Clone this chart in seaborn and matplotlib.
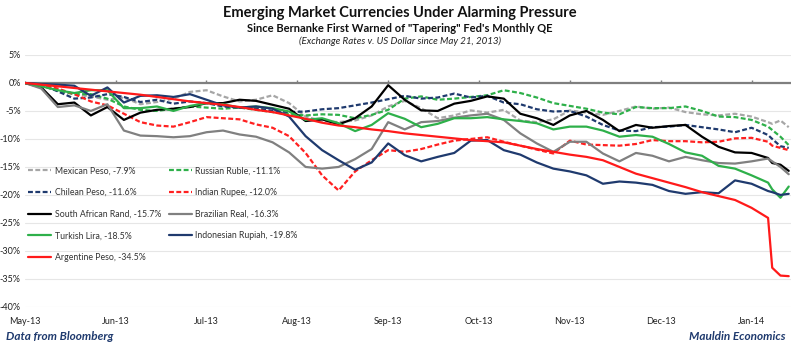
import numpy as np
import pandas as pd
import matplotlib
matplotlib.use('Agg')
import matplotlib.pyplot as plt
import seaborn as sns
from matplotlib.ticker import FuncFormatter

# trading-day index (May 21, 2013 = 0), sampled every 4 days plus the last few
days = list(range(0, 181, 4)) + [181, 183, 185]

mexican = [0, -0.3, -1.2, -2.0, -2.4, -3.0, -2.6, -3.8, -3.4, -2.8, -1.6, -1.3, -2.4, -3.3, -3.0, -2.2,
           -3.6, -6.0, -6.8, -7.0, -6.7, -5.8, -4.2, -3.2, -4.5, -6.3, -5.8, -4.9, -5.3, -4.8, -6.7, -7.0,
           -6.5, -4.9, -5.3, -5.7, -5.0, -4.2, -4.6, -4.4, -5.2, -5.6, -5.8, -5.5, -6.0, -7.0, -7.3, -6.7, -7.9]
russian = [0, -0.5, -1.4, -2.0, -2.0, -2.8, -4.2, -4.8, -5.0, -4.6, -4.2, -4.4, -4.6, -4.4, -4.8, -5.2,
           -5.6, -5.8, -5.6, -5.7, -6.3, -5.7, -4.8, -2.8, -2.4, -3.0, -2.8, -2.5, -2.2, -1.3, -1.8, -2.6,
           -3.6, -4.1, -4.6, -5.3, -5.6, -4.3, -4.5, -4.5, -4.2, -5.0, -6.0, -6.1, -6.6, -7.8, -8.4, -9.6, -11.1]
chilean = [0, -0.3, -1.5, -2.8, -2.6, -2.0, -2.5, -3.4, -3.0, -3.7, -3.3, -3.6, -4.2, -4.4, -4.5, -5.0,
           -5.2, -5.1, -4.7, -4.5, -4.0, -3.5, -2.9, -2.3, -2.8, -2.6, -1.9, -2.6, -2.3, -3.5, -3.8, -4.7,
           -5.1, -5.0, -6.0, -7.5, -8.5, -8.6, -7.9, -7.8, -7.5, -7.9, -8.3, -8.8, -8.0, -9.3, -10.0, -11.3, -11.6]
indian = [0, -0.4, -1.0, -2.0, -3.3, -4.0, -5.5, -7.0, -7.6, -7.8, -7.0, -6.1, -6.3, -6.5, -7.4, -8.0,
          -9.5, -12.5, -16.5, -19.2, -15.8, -13.8, -12.0, -12.3, -11.8, -11.0, -10.3, -10.0, -9.7, -10.5, -11.2, -11.9,
          -12.6, -10.3, -11.0, -11.1, -11.2, -10.9, -10.2, -10.4, -10.4, -10.6, -10.5, -9.9, -9.8, -10.5, -11.2, -11.6, -12.0]
rand = [0, -0.8, -3.8, -3.5, -5.8, -4.3, -6.6, -5.3, -4.8, -4.6, -4.3, -3.6, -3.6, -3.0, -3.2, -3.9,
        -4.6, -6.8, -6.5, -7.4, -6.3, -4.2, -0.4, -3.0, -4.9, -5.0, -3.7, -3.2, -2.4, -2.8, -5.5, -6.3,
        -7.5, -5.8, -5.0, -6.6, -8.6, -7.5, -8.0, -7.7, -7.5, -9.6, -11.4, -12.4, -12.5, -13.4, -14.3, -14.6, -15.7]
real = [0, -1.0, -4.3, -4.0, -5.0, -3.8, -8.5, -9.4, -9.5, -9.7, -9.5, -8.8, -8.5, -9.2, -9.6, -10.6,
        -12.4, -15.0, -15.3, -15.0, -13.6, -11.8, -7.0, -8.3, -7.0, -6.8, -6.2, -5.8, -5.5, -6.6, -9.0, -10.8,
        -12.3, -10.5, -10.5, -12.6, -14.0, -12.5, -13.0, -14.0, -13.2, -13.8, -14.3, -14.4, -14.0, -13.5, -14.0, -15.0, -16.3]
lira = [0, -0.6, -1.3, -1.8, -1.3, -1.3, -4.5, -4.5, -4.2, -5.0, -4.1, -3.6, -3.8, -4.4, -4.2, -4.5,
        -5.1, -6.6, -6.3, -7.2, -8.6, -7.5, -5.4, -6.4, -7.9, -7.3, -6.3, -6.3, -6.1, -6.5, -6.8, -7.2,
        -8.3, -7.8, -7.8, -8.5, -9.6, -9.3, -9.6, -10.9, -12.4, -13.0, -14.8, -15.3, -16.5, -17.8, -19.0, -20.5, -18.5]
rupiah = [0, -0.2, -0.3, -0.5, -2.3, -0.8, -3.5, -2.3, -2.2, -2.5, -2.0, -3.0, -4.0, -4.4, -4.2, -4.6,
          -6.0, -9.5, -12.0, -13.8, -15.5, -14.2, -10.8, -12.9, -14.0, -13.2, -12.5, -10.3, -10.2, -12.0, -12.8, -14.2,
          -15.3, -15.8, -16.5, -18.0, -17.6, -17.8, -18.2, -19.3, -19.8, -19.5, -19.7, -17.4, -18.0, -19.3, -19.5, -20.0, -19.8]
argentine = [0, -0.3, -0.6, -0.9, -1.2, -1.5, -1.8, -2.1, -2.5, -2.9, -3.3, -3.6, -3.9, -4.3, -4.8, -5.2,
             -5.8, -6.4, -7.1, -7.6, -7.9, -8.3, -8.6, -9.0, -9.3, -9.6, -9.9, -10.2, -10.4, -10.6, -11.2, -11.8,
             -12.3, -12.8, -13.2, -13.8, -15.0, -16.2, -17.0, -17.8, -18.6, -19.5, -20.2, -20.9, -22.3, -24.1, -33.0, -34.4, -34.5]

names = ['Mexican Peso', 'Russian Ruble', 'Chilean Peso', 'Indian Rupee', 'South African Rand',
         'Brazilian Real', 'Turkish Lira', 'Indonesian Rupiah', 'Argentine Peso']
series = [mexican, russian, chilean, indian, rand, real, lira, rupiah, argentine]
colors = ['#A6A6A6', '#2EB04A', '#1F3A6E', '#FF2020', '#000000',
          '#808080', '#2EB04A', '#1F3A6E', '#FF1A1A']
dashed = [True, True, True, True, False, False, False, False, False]

month_pos = [0, 22, 44, 66, 88, 110, 132, 154, 176]
month_labels = ['May-13', 'Jun-13', 'Jul-13', 'Aug-13', 'Sep-13', 'Oct-13', 'Nov-13', 'Dec-13', 'Jan-14']
y_ticks = [5, 0, -5, -10, -15, -20, -25, -30, -35, -40]

sns.set_style('white')
plt.rcParams['font.family'] = ['Lato', 'DejaVu Sans']

fig = plt.figure(figsize=(8, 3.5), dpi=100)
ax = fig.add_axes([0.031, 0.123, 0.958, 0.72])

for name, vals, col, dsh in zip(names, series, colors, dashed):
    df = pd.DataFrame({'day': days, 'chg': vals})
    sns.lineplot(data=df, x='day', y='chg', ax=ax, color=col, linewidth=1.6,
                 linestyle=(0, (2.2, 1.1)) if dsh else '-', label=f'{name}, {vals[-1]:.1f}%')

ax.set_xlim(0, 185.6)
ax.set_ylim(-40, 5)
ax.set_yticks(y_ticks)
ax.yaxis.set_major_formatter(FuncFormatter(lambda v, p: f'{v:.0f}%'))
ax.set_xticks(month_pos)
ax.set_xticklabels(month_labels)
ax.tick_params(axis='both', length=0, labelsize=6.5, colors='#222222')
ax.tick_params(axis='x', pad=7)
ax.tick_params(axis='y', pad=3)
ax.set_xlabel('')
ax.set_ylabel('')
for s in ax.spines.values():
    s.set_visible(False)
ax.grid(axis='y', color='#E6E6E6', linewidth=0.8)
ax.set_axisbelow(True)
ax.axhline(0, color='#7F7F7F', linewidth=1.6, zorder=1.5)
ax.vlines(month_pos[1:], 0, 0.45, color='#7F7F7F', linewidth=1.0, zorder=1.5)

h, l = ax.get_legend_handles_labels()
order = [0, 2, 4, 6, 8, 1, 3, 5, 7]
leg = ax.legend([h[i] for i in order], [l[i] for i in order], ncol=2, loc='upper left',
                bbox_to_anchor=(0.0, 0.572), frameon=False, fontsize=6.3, handlelength=2.6,
                handletextpad=0.4, labelspacing=1.45, columnspacing=0.9, borderaxespad=0)
for t in leg.get_texts():
    t.set_color('#333333')

fig.text(0.5, 1 - 13 / 350, 'Emerging Market Currencies Under Alarming Pressure',
         ha='center', va='center', fontsize=10.5, fontweight='bold', color='#111111')
fig.text(0.5, 1 - 28 / 350, 'Since Bernanke First Warned of "Tapering" Fed\'s Monthly QE',
         ha='center', va='center', fontsize=8, fontweight='bold', color='#111111')
fig.text(0.5, 1 - 41 / 350, '(Exchange Rates v. US Dollar since May 21, 2013)',
         ha='center', va='center', fontsize=7, style='italic', color='#222222')
fig.text(0.008, 1 - 337 / 350, 'Data from Bloomberg', ha='left', va='center',
         fontsize=8.5, fontweight='bold', style='italic', color='#1F3A6E')
fig.text(0.982, 1 - 337 / 350, 'Mauldin Economics', ha='right', va='center',
         fontsize=8.5, fontweight='bold', style='italic', color='#1F3A6E')

fig.savefig('out.png', dpi=100)
